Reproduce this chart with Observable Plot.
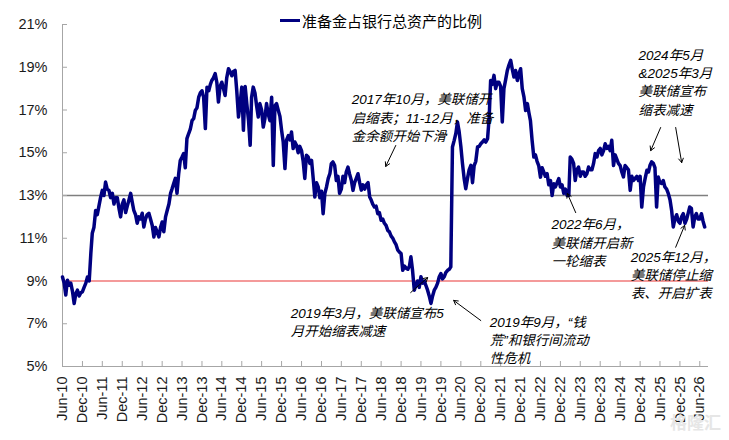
<!DOCTYPE html>
<html><head><meta charset="utf-8">
<script src="https://cdn.jsdelivr.net/npm/d3@7"></script>
<script src="https://cdn.jsdelivr.net/npm/@observablehq/plot@0.6"></script>
<style>
body{margin:0;background:#fff;}
#wrap{position:relative;width:729px;height:440px;}
#legend{position:absolute;left:280px;top:10px;height:20px;display:flex;align-items:center;font:15px 'Noto Sans CJK SC','Liberation Sans',sans-serif;color:#000;}
#legend .sw{display:inline-block;width:20px;height:3px;background:#000080;margin-right:2px;}
#wm{position:absolute;right:8px;bottom:6px;font:bold 17px 'Noto Sans CJK SC',sans-serif;color:#e6e6e6;}
svg text{font-synthesis:style;}
</style></head>
<body>
<div id="wrap">
<div id="legend"><span class="sw"></span><span>准备金占银行总资产的比例</span></div>
<div id="wm">格隆汇</div>
</div>
<script>
// Semi-monthly readings (1st and 16th of each month), % of bank total assets
const ratio2010 = [9.19, 8.9, 8.34, 9.04, 8.8, 8.9, 8.5, 7.95, 8.4, 8.57, 8.3, 8.45, 8.5, 8.7]; // from June
const ratio2011 = [8.9, 9.19, 9.0, 10.3, 11.23, 11.5, 12.3, 12.1, 12.5, 12.9, 13.24, 13.0, 13.63, 13.3, 13.24, 12.9, 13.1, 12.6, 12.9, 12.9, 12.4, 12.0, 12.6, 12.8];
const ratio2012 = [12.2, 12.5, 12.8, 13.1, 12.7, 12.3, 12.1, 11.7, 12.0, 11.9, 12.17, 11.53, 11.9, 12.1, 12.17, 11.9, 11.6, 11.06, 11.5, 11.3, 11.06, 11.5, 11.76, 11.3];
const ratio2013 = [12.0, 12.3, 12.6, 13.1, 13.3, 13.55, 13.8, 13.1, 14.0, 14.64, 14.8, 14.96, 14.3, 15.66, 15.9, 16.1, 16.5, 16.6, 16.98, 17.1, 17.6, 17.8, 17.9, 17.6];
const ratio2014 = [16.13, 18.07, 17.9, 18.2, 18.38, 18.5, 18.7, 18.3, 17.37, 18.1, 18.3, 18.0, 17.68, 18.5, 18.93, 18.8, 18.6, 18.8, 18.85, 17.9, 16.67, 17.3, 18.07, 16.05];
const ratio2015 = [18.1, 17.3, 16.5, 15.35, 17.6, 18.07, 17.8, 17.2, 16.67, 17.3, 17.0, 16.2, 16.6, 17.3, 16.8, 16.5, 17.6, 14.4, 17.2, 17.3, 16.98, 16.7, 16.05, 15.5];
const ratio2016 = [14.26, 15.6, 15.8, 15.6, 15.97, 15.2, 15.5, 15.35, 15.0, 15.3, 15.1, 14.6, 13.8, 14.88, 14.8, 14.5, 14.64, 13.8, 12.93, 13.6, 13.4, 12.9, 13.2, 12.15];
const ratio2017 = [13.1, 13.4, 13.8, 14.02, 14.49, 14.57, 14.4, 13.7, 13.9, 13.1, 13.3, 13.9, 13.6, 14.1, 14.33, 14.0, 13.7, 13.24, 13.6, 13.8, 14.02, 13.6, 13.25, 13.5];
const ratio2018 = [13.3, 13.5, 13.6, 12.93, 12.8, 12.6, 12.46, 12.5, 12.15, 12.2, 11.84, 11.9, 11.7, 11.6, 11.37, 11.3, 11.1, 11.0, 10.83, 10.7, 10.44, 10.35, 10.28, 9.5];
const ratio2019 = [9.7, 9.6, 9.55, 9.7, 10.13, 9.5, 8.57, 8.8, 9.0, 8.7, 9.2, 8.9, 9.0, 8.8, 8.57, 8.3, 7.95, 8.3, 8.57, 8.7, 8.9, 9.2, 9.35, 9.1];
const ratio2020 = [9.2, 9.4, 9.5, 9.55, 9.66, 15.27, 15.58, 15.9, 16.44, 16.0, 15.3, 14.49, 13.8, 13.32, 13.8, 14.2, 14.41, 13.6, 14.4, 14.6, 15.27, 15.3, 15.42, 15.5];
const ratio2021 = [15.6, 15.5, 15.66, 16.67, 18.38, 18.2, 18.62, 18.0, 18.3, 18.3, 18.1, 16.44, 18.0, 18.4, 18.85, 19.1, 19.32, 18.9, 18.54, 18.85, 18.38, 18.7, 18.93, 18.0];
const ratio2022 = [17.6, 16.98, 17.3, 16.85, 16.5, 15.6, 14.8, 14.9, 14.6, 14.4, 13.86, 14.3, 14.1, 13.9, 14.02, 13.5, 13.7, 13.0, 13.55, 13.4, 13.6, 13.79, 13.4, 13.5];
const ratio2023 = [13.1, 13.3, 13.0, 13.0, 14.8, 14.7, 14.5, 13.7, 14.2, 14.33, 13.9, 14.1, 14.1, 13.9, 14.02, 14.33, 14.2, 14.2, 14.5, 14.96, 14.8, 15.1, 15.2, 14.9];
const ratio2024 = [15.1, 15.42, 15.2, 15.3, 15.1, 15.58, 14.4, 14.9, 14.7, 14.5, 14.4, 14.1, 13.87, 14.4, 14.3, 14.2, 13.24, 13.9, 13.7, 13.8, 13.9, 13.7, 13.9, 12.46];
const ratio2025 = [13.4, 13.8, 14.18, 14.1, 14.4, 14.57, 14.5, 14.3, 12.46, 13.87, 13.6, 13.56, 13.7, 13.4, 13.3, 13.1, 12.8, 12.3, 11.53, 11.9, 12.1, 11.8, 11.7, 12.0];
const ratio2026 = [12.15, 11.7, 11.9, 12.2, 12.46, 12.4, 11.53, 12.0, 12.15, 11.9, 11.9, 12.15, 11.8, 11.53];

const yearSeries = [ratio2010, ratio2011, ratio2012, ratio2013, ratio2014, ratio2015, ratio2016, ratio2017, ratio2018, ratio2019, ratio2020, ratio2021, ratio2022, ratio2023, ratio2024, ratio2025, ratio2026];
const firstYear = 2010, firstMonth = 5; // June 2010

const yTicks = [5, 7, 9, 11, 13, 15, 17, 19, 21];
const refLevels = {upper: 13, lower: 9};

const notes = [
  {date: "2017-09-05", value: 17.87, text: "2017年10月，美联储开\n启缩表；11-12月，准备\n金余额开始下滑"},
  {date: "2024-11-17", value: 19.97, text: "2024年5月\n&2025年3月\n美联储宣布\n缩表减速"},
  {date: "2022-09-11", value: 12.02, text: "2022年6月，\n美联储开启新\n一轮缩表"},
  {date: "2024-09-05", value: 10.52, text: "2025年12月，\n美联储停止缩\n表、开启扩表"},
  {date: "2016-02-23", value: 7.90, text: "2019年3月，美联储宣布5\n月开始缩表减速"},
  {date: "2021-02-21", value: 7.48, text: "2019年9月，“钱\n荒”和银行间流动\n性危机"}
];
const pointers = [
  {d1: "2018-10-13", v1: 15.34, d2: "2018-07-13", v2: 14.36},
  {d1: "2025-06-07", v1: 16.18, d2: "2025-03-08", v2: 15.10},
  {d1: "2025-10-23", v1: 16.18, d2: "2025-12-17", v2: 14.54},
  {d1: "2023-04-20", v1: 12.20, d2: "2023-02-03", v2: 13.09},
  {d1: "2025-10-23", v1: 10.58, d2: "2026-01-13", v2: 11.60},
  {d1: "2019-02-27", v1: 8.46, d2: "2019-08-02", v2: 9.16},
  {d1: "2020-12-01", v1: 7.15, d2: "2020-03-27", v2: 8.09}
];

const data = [];
yearSeries.forEach((arr, k) => {
  const yr = firstYear + k, m0 = k === 0 ? firstMonth : 0;
  arr.forEach((v, i) => data.push({date: new Date(Date.UTC(yr, m0 + Math.floor(i / 2), i % 2 ? 16 : 1)), value: v}));
});

const xStart = new Date(Date.UTC(2010, 5, 1));
const xEnd = new Date(Date.UTC(2026, 7, 20));
const xTicks = d3.utcMonth.range(xStart, xEnd, 6);
const P = s => new Date(s + "T00:00:00Z");

const chart = Plot.plot({
  width: 729, height: 440,
  marginLeft: 62, marginRight: 21, marginTop: 24, marginBottom: 74,
  style: {fontFamily: "'Liberation Sans', Arial, 'Noto Sans CJK SC', sans-serif", fontSize: "14px", color: "#000", background: "#fff"},
  x: {type: "utc", domain: [xStart, xEnd]},
  y: {domain: [5, 21]},
  marks: [
    Plot.ruleY([refLevels.lower], {stroke: "#f07878", strokeWidth: 1.5}),
    Plot.ruleY([refLevels.upper], {stroke: "#7f7f7f", strokeWidth: 1.5}),
    Plot.ruleY([5], {stroke: "#a6a6a6"}),
    Plot.ruleX([xStart], {stroke: "#a6a6a6"}),
    Plot.axisY(yTicks, {tickSize: 5, dx: 5, tickFormat: () => "", label: null, stroke: "#a6a6a6"}),
    Plot.axisY(yTicks, {tickSize: 0, tickPadding: 15, tickFormat: d => d + "%", label: null, fontSize: 14.5, fill: "#1a1a1a"}),
    Plot.axisX(xTicks, {tickSize: 5, dy: -5, tickFormat: () => "", label: null, stroke: "#a6a6a6"}),
    Plot.axisX(xTicks, {tickSize: 0, tickPadding: 10, tickRotate: -90, tickFormat: d3.utcFormat("%b-%y"), label: null, fontSize: 14.5, fill: "#1a1a1a"}),
    Plot.line(data, {x: "date", y: "value", stroke: "#000080", strokeWidth: 3.5, strokeLinejoin: "round"}),
    Plot.arrow(pointers, {x1: d => P(d.d1), y1: "v1", x2: d => P(d.d2), y2: "v2", stroke: "#000", strokeWidth: 1, headLength: 7}),
    Plot.text(notes, {x: d => P(d.date), y: "value", text: "text", textAnchor: "start", lineAnchor: "top", lineHeight: 1.36, fontSize: 13.5, fontStyle: "italic", fill: "#000", fontFamily: "'Liberation Sans', 'Noto Sans CJK SC', sans-serif"})
  ]
});
document.getElementById("wrap").prepend(chart);
</script>
</body></html>
